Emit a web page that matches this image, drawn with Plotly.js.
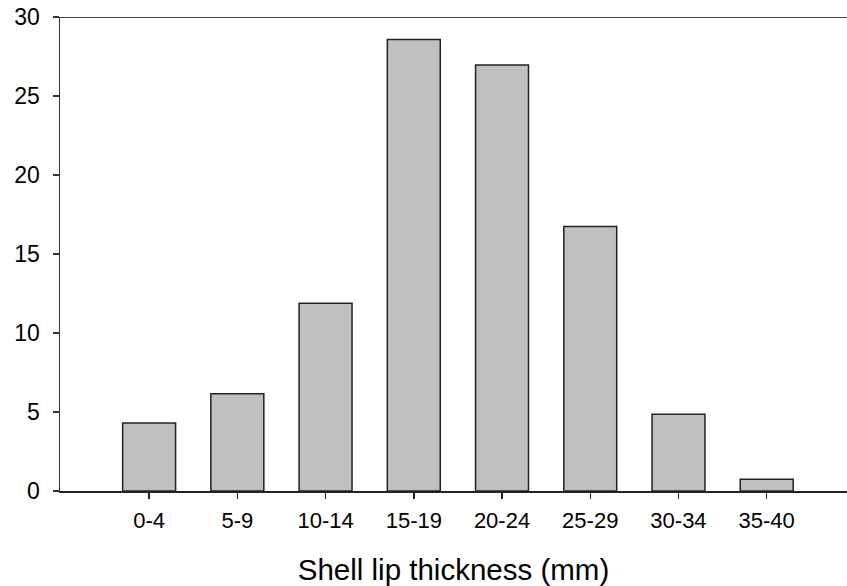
<!DOCTYPE html>
<html>
<head>
<meta charset="utf-8">
<script src="https://cdn.plot.ly/plotly-3.0.1.min.js"></script>
<style>html,body{margin:0;padding:0;background:#fff;}#chart{width:847px;height:586px;}</style>
</head>
<body>
<div id="chart"></div>
<script>
const categories = ["0-4", "5-9", "10-14", "15-19", "20-24", "25-29", "30-34", "35-40"];
const values = [4.3, 6.15, 11.88, 28.58, 26.96, 16.74, 4.85, 0.74];
const yTicks = [0, 5, 10, 15, 20, 25, 30];
const xTitle = "Shell lip thickness (mm)";

const trace = {
  type: "bar",
  x: categories.map((_, i) => i),
  y: values,
  width: 0.6,
  marker: { color: "#c0c0c0", line: { color: "#222222", width: 1.5 } },
  hoverinfo: "none"
};

const layout = {
  width: 847, height: 586,
  margin: { l: 60, r: 0, t: 17, b: 95 },
  paper_bgcolor: "#ffffff", plot_bgcolor: "#ffffff",
  font: { family: "Liberation Sans, Arial, sans-serif", color: "#000000" },
  showlegend: false,
  xaxis: {
    range: [-1.01, 7.91],
    tickmode: "array",
    tickvals: categories.map((_, i) => i),
    ticktext: categories,
    ticks: "outside", ticklen: 6, tickwidth: 1.5, tickcolor: "#222222",
    tickfont: { size: 22 },
    ticklabelstandoff: 3,
    showline: true, linecolor: "#222222", linewidth: 1.5,
    showgrid: false, zeroline: false,
    title: { text: xTitle, font: { size: 29.5 }, standoff: 27 }
  },
  yaxis: {
    range: [0, 30],
    tickmode: "array",
    tickvals: yTicks,
    ticks: "outside", ticklen: 6, tickwidth: 1.5, tickcolor: "#333333",
    tickfont: { size: 23 },
    ticklabelstandoff: 8,
    showline: true, linecolor: "#333333", linewidth: 1.5,
    showgrid: false, zeroline: false
  },
  shapes: [{
    type: "line", xref: "paper", yref: "y",
    x0: 0, x1: 1, y0: 30, y1: 30,
    line: { color: "#444444", width: 2 }
  }]
};

Plotly.newPlot("chart", [trace], layout, { staticPlot: true, displayModeBar: false });
</script>
</body>
</html>
